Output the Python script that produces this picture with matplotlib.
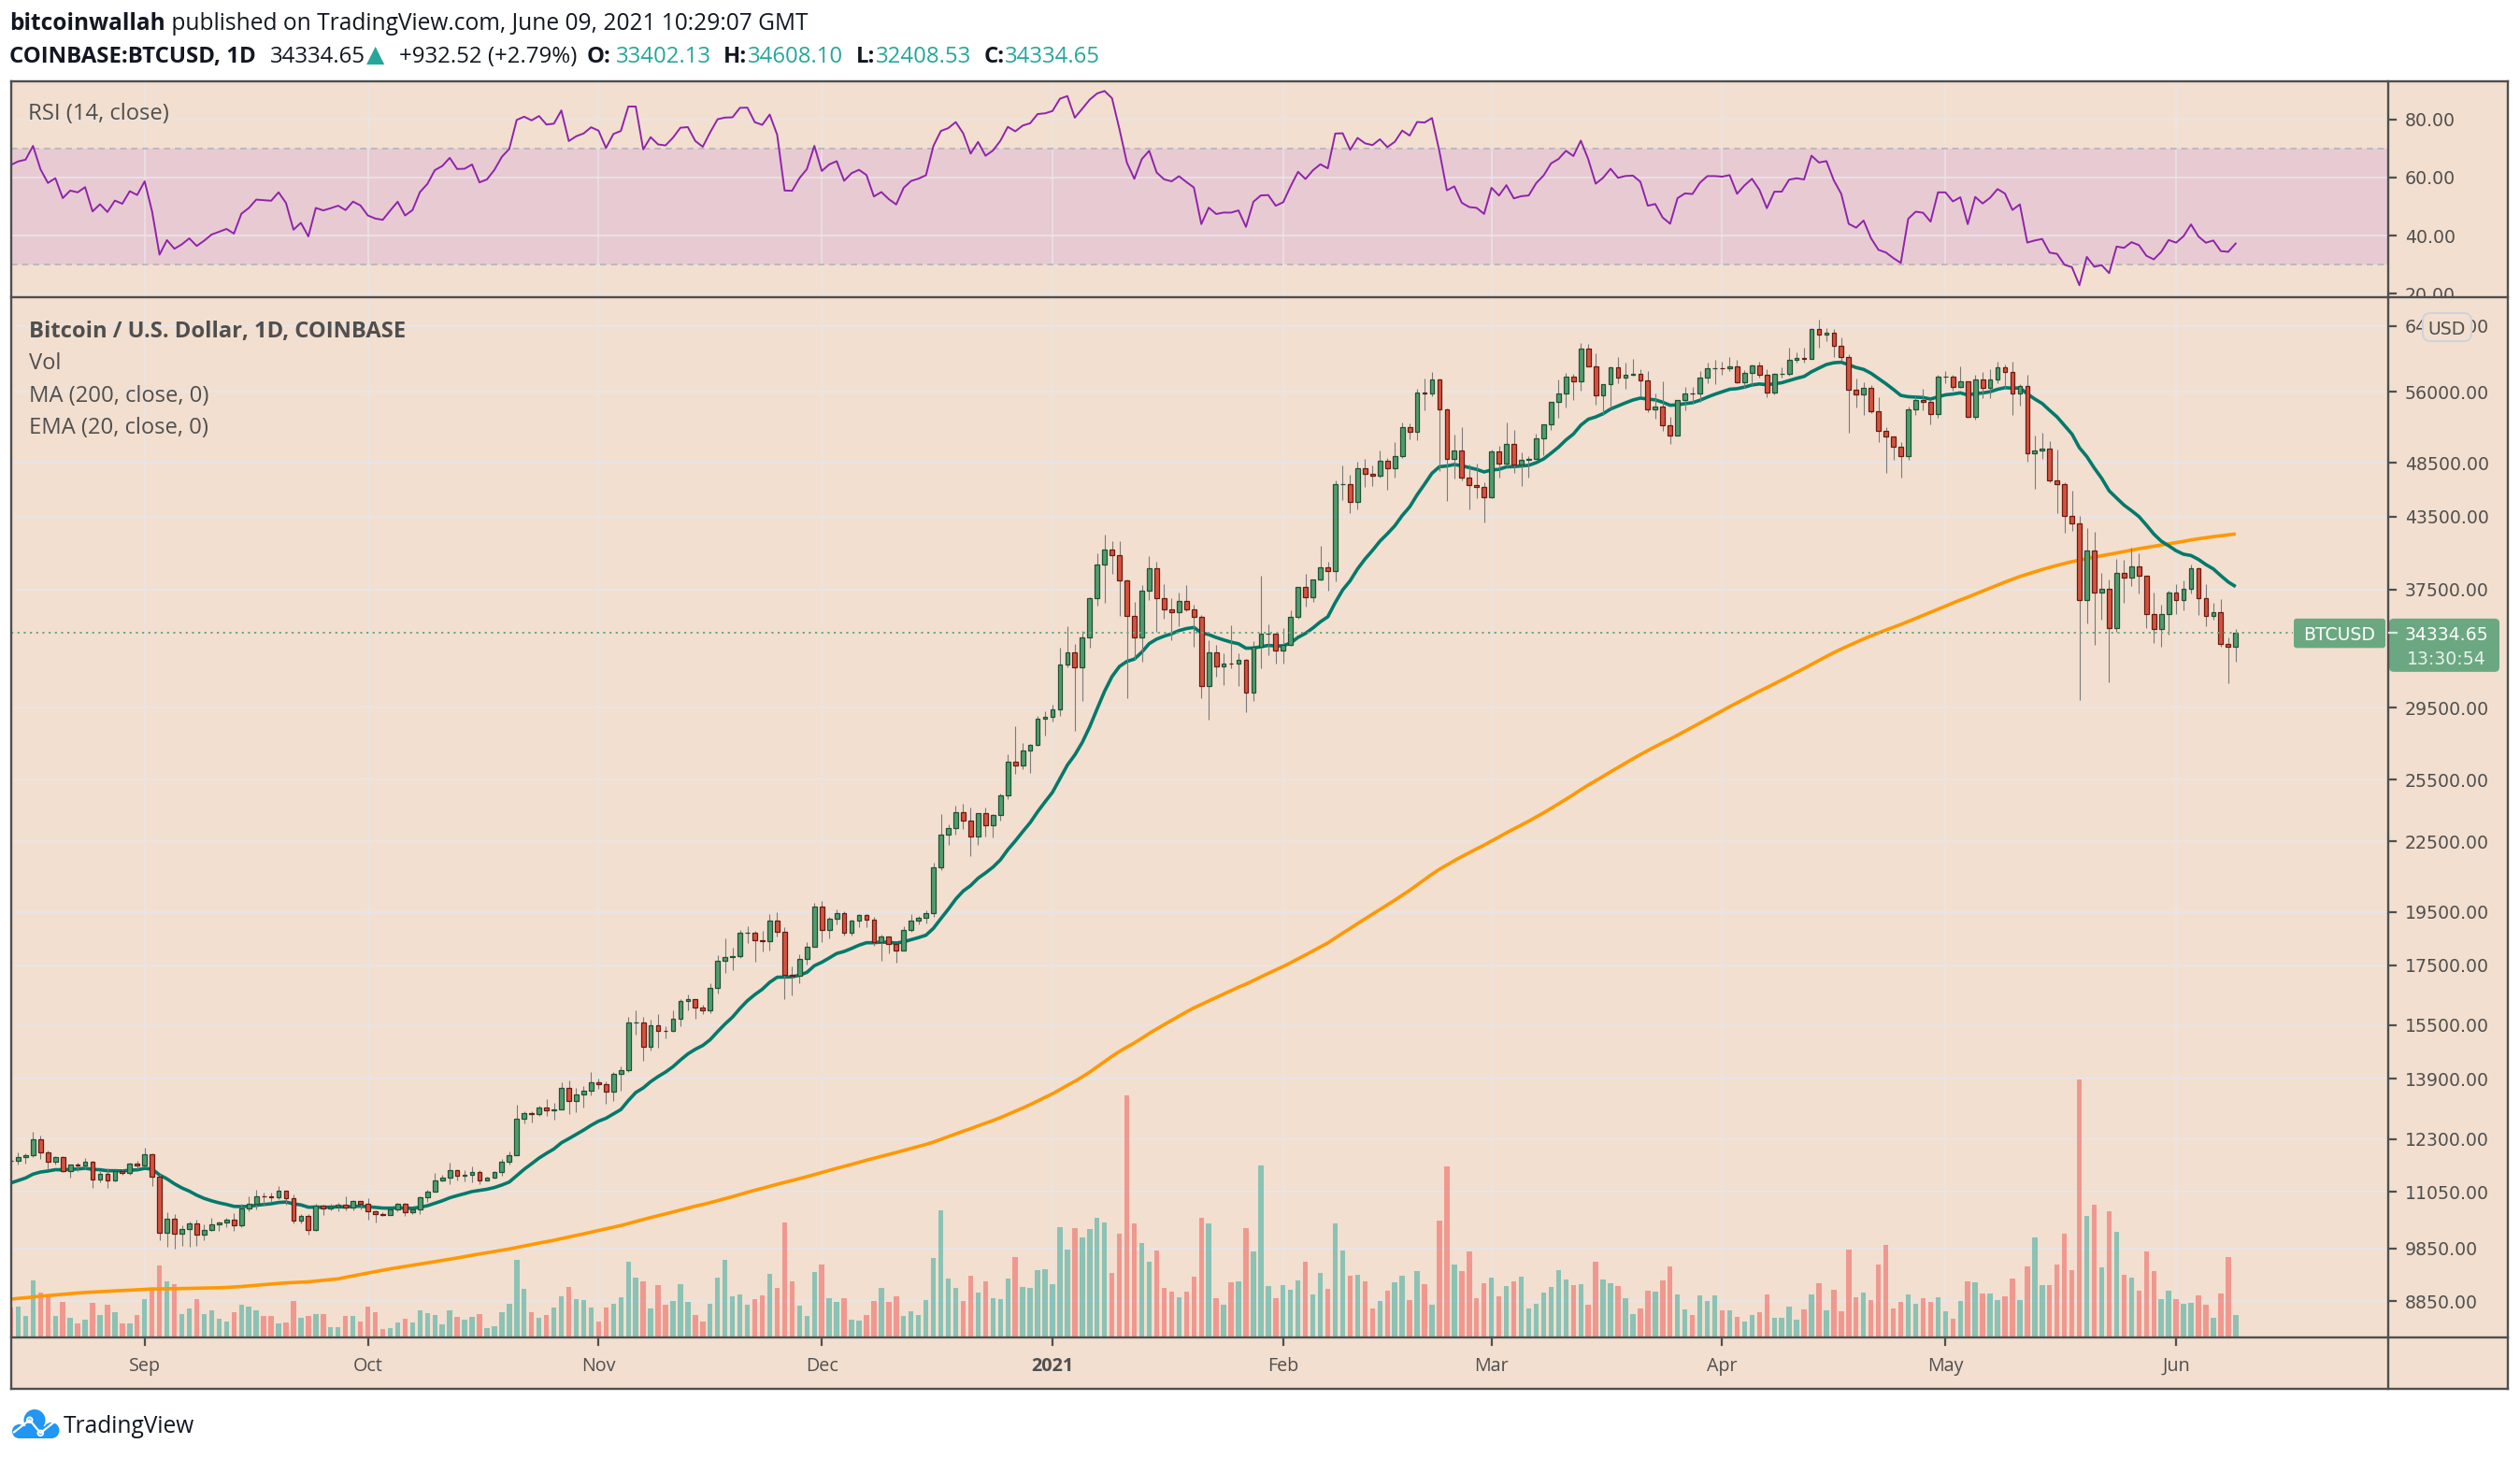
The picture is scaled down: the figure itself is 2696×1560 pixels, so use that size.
import datetime as dt
import numpy as np
import matplotlib
matplotlib.use("Agg")
import matplotlib.pyplot as plt
from matplotlib.patches import FancyBboxPatch, Circle, Rectangle

plt.rcParams['lines.scale_dashes'] = False
plt.rcParams['font.family'] = ['Open Sans', 'DejaVu Sans']

W, H, DPI = 2696, 1560, 200

# ---------------- data ----------------
START = dt.date(2020, 8, 14)

# daily closes 2020-01-27 .. 2020-08-13 (history for MA200 / EMA / RSI warm-up)
pre_close = [
    8900, 9380, 9300, 9510, 9350,
    9390, 9340, 9290, 9190, 9620, 9760, 9800, 9900, 10170, 9860, 10270, 10360, 10240, 10370, 9900,
    9930, 9700, 10180, 9600, 9610, 9690, 9670, 9970, 9650, 9320, 8790, 8790, 8680, 8540,
    8530, 8920, 8760, 8760, 9070, 9150, 8900, 8040, 7940, 7900, 7950, 4860, 5620, 5170, 5360, 5030,
    5330, 5420, 6190, 6200, 6190, 5830, 6490, 6770, 6690, 6760, 6370, 6250, 5880, 6410, 6420,
    6650, 6810, 6740, 6870, 6780, 7340, 7200, 7370, 7300, 6870, 6890, 6920, 6850, 6860, 6630,
    7120, 7040, 7260, 7130, 6840, 6860, 7130, 7490, 7510, 7550, 7700, 7790, 7760, 8780, 8620,
    8830, 8970, 8900, 8880, 9030, 9150, 9990, 9810, 9540, 8720, 8560, 8810, 9310, 9790, 9310,
    9380, 9670, 9730, 9780, 9510, 9060, 9170, 9180, 8720, 8900, 8840, 9200, 9570, 9430, 9700, 9450,
    10200, 9520, 9660, 9790, 9620, 9670, 9750, 9780, 9770, 9890, 9270, 9470, 9480, 9340, 9430,
    9520, 9450, 9380, 9300, 9360, 9290, 9690, 9630, 9290, 9250, 9160, 9010, 9110, 9190, 9140,
    9230, 9090, 9060, 9130, 9080, 9340, 9250, 9430, 9240, 9290, 9240, 9300, 9240, 9250, 9190,
    9130, 9150, 9170, 9210, 9160, 9390, 9530, 9610, 9550, 9700, 9930, 11040, 10930, 11100, 11110, 11350,
    11800, 11070, 11230, 11190, 11740, 11770, 11600, 11760, 11680, 11880, 11400, 11580, 11780,
]

# visible candles 2020-08-14 .. 2021-06-09
close = [
    11770, 11865, 11910, 12300, 11970, 11750, 11860, 11520, 11680, 11650, 11755, 11330, 11465, 11320, 11530, 11475, 11710, 11650,
    11920, 11395, 10170, 10470, 10160, 10250, 10370, 10125, 10225, 10340, 10390, 10440, 10330, 10680, 10790, 10955, 10945, 10935, 11085, 10920, 10420, 10530, 10235, 10740, 10690, 10730, 10775, 10700, 10840, 10780,
    10620, 10570, 10550, 10670, 10790, 10600, 10670, 10925, 11055, 11300, 11380, 11545, 11425, 11430, 11505, 11320, 11365, 11515, 11750, 11915, 12825, 12975, 12935, 13125, 13035, 13070, 13650, 13280, 13455, 13560, 13800,
    13760, 13550, 14030, 14150, 15590, 15590, 14840, 15480, 15330, 15310, 15700, 16290, 16330, 16070, 15960, 16720, 17660, 17800, 17820, 18680, 18700, 18420, 18370, 19160, 18740, 17150, 17140, 17720, 18180, 19700,
    18790, 19230, 19450, 18700, 19160, 19370, 19180, 18330, 18550, 18260, 18040, 18810, 19160, 19280, 19450, 21340, 22800, 23130, 23870, 23480, 22720, 23820, 23250, 23720, 24690, 26440, 26250, 27040, 27370, 28860, 28990,
    29400, 32200, 33000, 32030, 34030, 36820, 39430, 40670, 40240, 38240, 35550, 34000, 37390, 39150, 36830, 36050, 35820, 36630, 36020, 35470, 30850, 33010, 32090, 32280, 32270, 32520, 30430, 33410, 34270, 34320, 33110,
    33520, 35510, 37670, 36950, 38290, 39260, 38900, 46400, 46480, 44840, 47970, 47410, 47230, 48680, 47940, 49170, 52140, 51680, 55890, 55840, 57410, 54090, 48890, 49680, 47060, 46330, 46200, 45240,
    49620, 48440, 50380, 48370, 48760, 48880, 50970, 52400, 54880, 55860, 57800, 57230, 61190, 59000, 55640, 56900, 58910, 57650, 58030, 58100, 57350, 54080, 54340, 52300, 51300, 55070, 55860, 55780, 57620, 58790, 58800,
    58740, 58970, 57060, 58200, 59130, 58020, 55950, 58090, 58100, 59770, 59970, 59860, 63580, 62960, 63200, 61450, 60070, 56270, 55700, 56500, 53800, 51700, 51190, 50090, 49120, 54050, 55040, 54880, 53580, 57800,
    57800, 56600, 57200, 53240, 57480, 56440, 57400, 58900, 58280, 55860, 56700, 49400, 49710, 49920, 46760, 46430, 43570, 42900, 36700, 40600, 37300, 37530, 34700, 38780, 38400, 39290, 38540, 35680, 34630, 35650, 37300,
    36690, 37560, 39190, 36850, 35520, 35800, 33570, 33402.13, 34334.65,
]
high = [
    11860, 11970, 11950, 12480, 12390, 12020, 11880, 11880, 11690, 11720, 11830, 11770, 11530, 11590, 11550, 11580, 11720, 11780,
    12080, 11940, 11470, 10600, 10570, 10320, 10410, 10450, 10350, 10490, 10410, 10480, 10580, 10780, 10950, 11100, 11040, 11040, 11180, 11060, 10990, 10560, 10560, 10780, 10760, 10780, 10800, 10950, 10860, 10850,
    10920, 10640, 10600, 10690, 10800, 10800, 10690, 10950, 11100, 11490, 11440, 11730, 11560, 11550, 11630, 11540, 11400, 11520, 11820, 12000, 13200, 13010, 13020, 13160, 13350, 13240, 13800, 13860, 13640, 13690, 14100,
    13900, 13830, 14080, 14250, 15750, 15970, 15770, 15660, 15850, 15470, 15960, 16340, 16490, 16330, 16140, 16880, 17860, 18480, 18120, 18810, 18960, 18750, 18770, 19420, 19490, 18920, 17460, 17880, 18350, 19860,
    19920, 19310, 19600, 19520, 19180, 19420, 19420, 19300, 18640, 18560, 18280, 18950, 19410, 19350, 19560, 21560, 23800, 23280, 24170, 24300, 24100, 23840, 24110, 23790, 24790, 26870, 28400, 27480, 27400, 29000, 29300,
    29680, 33300, 34800, 33600, 34500, 36950, 40370, 41950, 41350, 41400, 38270, 36600, 37850, 40100, 39700, 37900, 36850, 37300, 37850, 36400, 35600, 33830, 33500, 32930, 34880, 32930, 32550, 33780, 38600, 34930, 34320,
    34700, 35980, 37700, 38700, 38300, 40990, 39700, 46780, 48200, 47300, 48600, 48900, 48200, 49700, 49000, 50600, 52600, 52520, 56300, 57500, 58350, 57500, 54200, 51380, 52100, 48350, 48450, 46650,
    49800, 50200, 52650, 51800, 49500, 49200, 51450, 52400, 54900, 57380, 58150, 58050, 61800, 61700, 60600, 56900, 58950, 60050, 59450, 59900, 58600, 58400, 55850, 57200, 53250, 55100, 56550, 56600, 58400, 59400, 59800,
    59500, 60050, 59800, 58500, 59250, 59500, 58650, 58150, 58850, 61250, 60700, 61200, 63800, 64900, 63800, 63600, 62550, 60450, 57500, 57100, 56750, 55400, 52150, 51200, 50550, 54350, 55500, 56400, 55200, 58000,
    58450, 57950, 59000, 57200, 57950, 58350, 58650, 59500, 59250, 59500, 56900, 58000, 51300, 51550, 50700, 49800, 46600, 45800, 43550, 42500, 42200, 38800, 38300, 39900, 39800, 40850, 40400, 38200, 37300, 36400, 37450,
    37900, 38200, 39450, 39250, 37900, 36480, 36800, 34050, 34608.10,
]
low = [
    11650, 11680, 11700, 11850, 11820, 11560, 11680, 11500, 11370, 11520, 11580, 11140, 11260, 11130, 11290, 11440, 11450, 11580,
    11620, 11180, 10020, 9880, 9850, 9910, 9880, 9900, 10010, 10200, 10200, 10290, 10200, 10280, 10630, 10670, 10750, 10820, 10890, 10770, 10370, 10360, 10140, 10200, 10550, 10650, 10630, 10650, 10640, 10670,
    10440, 10380, 10520, 10540, 10620, 10530, 10560, 10560, 10830, 11050, 11280, 11230, 11300, 11280, 11270, 11220, 11320, 11350, 11420, 11680, 11900, 12690, 12720, 12880, 12900, 12790, 13060, 12950, 12990, 13120, 13430,
    13620, 13210, 13300, 13560, 14100, 15200, 14420, 14720, 14810, 15100, 15280, 15450, 15970, 15700, 15860, 15870, 16540, 17220, 17340, 17760, 18320, 17620, 18000, 18020, 18560, 16330, 16450, 16880, 17520, 18180,
    18330, 18470, 19030, 18570, 18590, 18900, 18910, 18200, 17650, 17930, 17600, 18030, 18730, 19000, 19050, 19300, 21230, 22350, 22800, 23060, 21820, 22350, 22720, 22700, 23450, 24500, 25800, 26060, 25850, 27330, 27870,
    28700, 29000, 32000, 28130, 29900, 33300, 36300, 36500, 38720, 35550, 30100, 32530, 32400, 36700, 34400, 35380, 33850, 34800, 35900, 33400, 30070, 28800, 31400, 30900, 31950, 30840, 29240, 29900, 31990, 32830, 32300,
    32300, 33430, 35360, 36200, 36580, 38220, 37400, 38100, 45000, 43800, 44100, 46150, 46300, 47100, 45900, 47050, 48950, 50900, 50740, 53900, 55500, 47700, 44900, 47000, 46800, 44150, 45100, 43000,
    45100, 47050, 48150, 47500, 46300, 47100, 48900, 49300, 51850, 53100, 54300, 55050, 56100, 59000, 54600, 53400, 54150, 57000, 56300, 57850, 55500, 53700, 53000, 51700, 50400, 51300, 53950, 54700, 54900, 57050, 56900,
    57950, 58450, 56950, 56500, 56800, 57600, 55450, 55700, 57650, 57900, 59400, 59400, 59850, 61300, 62050, 60050, 59650, 51550, 54250, 53450, 53650, 50600, 47500, 48800, 47100, 48800, 53400, 53900, 52400, 53100,
    57000, 56100, 56500, 53100, 52900, 55250, 55300, 56950, 56300, 53450, 54500, 48600, 46000, 48900, 46600, 43800, 42100, 42250, 30000, 35000, 33500, 35300, 31100, 34450, 36500, 37800, 37200, 34700, 33650, 33400, 34200,
    35700, 35950, 37200, 35600, 34800, 35300, 33400, 31000, 32408.53,
]
# daily volume, hundreds of BTC
volume = [
    95, 100, 70, 184, 145, 130, 70, 115, 64, 44, 58, 112, 73, 106, 82, 46, 46, 73,
    124, 154, 232, 181, 172, 76, 94, 124, 76, 88, 61, 52, 82, 106, 100, 88, 70, 70, 46, 49, 118, 64, 70, 76, 76, 34, 34, 70, 70, 52,
    100, 82, 28, 31, 49, 61, 49, 88, 79, 73, 43, 88, 67, 58, 67, 76, 31, 37, 82, 109, 250, 157, 82, 64, 73, 97, 133, 163, 124, 121, 97,
    52, 97, 109, 130, 244, 193, 181, 94, 169, 106, 118, 172, 115, 73, 52, 109, 193, 250, 133, 139, 106, 124, 136, 205, 160, 370, 181, 103, 70, 211,
    235, 127, 115, 127, 58, 55, 73, 118, 160, 115, 133, 70, 85, 73, 121, 256, 409, 190, 160, 118, 199, 145, 181, 127, 124, 190, 259, 163, 160, 217, 220,
    172, 355, 283, 352, 322, 349, 385, 370, 208, 334, 778, 367, 304, 244, 280, 160, 148, 130, 148, 196, 385, 367, 127, 106, 178, 181, 352, 277, 553, 166, 127,
    169, 154, 184, 244, 139, 208, 157, 367, 280, 199, 202, 181, 94, 118, 151, 178, 199, 121, 214, 172, 106, 376, 550, 235, 214, 277, 127, 175,
    193, 133, 166, 181, 196, 94, 109, 145, 163, 217, 187, 169, 172, 106, 244, 187, 175, 166, 127, 76, 94, 151, 148, 184, 229, 139, 91, 73, 136, 118, 136,
    88, 88, 67, 52, 73, 82, 139, 64, 64, 100, 58, 91, 139, 175, 88, 154, 85, 283, 130, 145, 121, 235, 298, 94, 115, 139, 109, 127, 115, 130,
    85, 61, 118, 181, 178, 142, 142, 121, 133, 190, 121, 229, 322, 169, 169, 235, 334, 217, 829, 391, 427, 226, 406, 340, 202, 193, 151, 277, 214, 124, 151,
    124, 109, 112, 136, 106, 64, 142, 259, 73,
]

price_ticks = [8850, 9850, 11050, 12300, 13900, 15500, 17500, 19500, 22500,
               25500, 29500, 37500, 43500, 48500, 56000, 64000]
rsi_ticks = [20, 40, 60, 80]
MONTHS = ['Jan', 'Feb', 'Mar', 'Apr', 'May', 'Jun', 'Jul', 'Aug', 'Sep', 'Oct', 'Nov', 'Dec']

n = len(close)
if not (len(high) == n and len(low) == n and len(volume) == n and len(pre_close) == 200):
    raise SystemExit(f"length mismatch {len(close)} {len(high)} {len(low)} {len(volume)} {len(pre_close)}")

# ---------------- indicators ----------------
allc = np.array(pre_close + close, dtype=float)
opn = np.array([pre_close[-1]] + close[:-1], dtype=float)
cls = np.array(close, dtype=float)
hi = np.array(high, dtype=float)
lo = np.array(low, dtype=float)
vol = np.array(volume, dtype=float)
x = np.arange(n)


def ema(a, p):
    out = np.full(len(a), np.nan)
    k = 2.0 / (p + 1)
    out[p - 1] = a[:p].mean()
    for i in range(p, len(a)):
        out[i] = a[i] * k + out[i - 1] * (1 - k)
    return out


ema20 = ema(allc, 20)[-n:]
sma200 = np.convolve(allc, np.ones(200) / 200.0, mode='valid')[-n:]

d = np.diff(allc)
g = np.clip(d, 0, None)
l = np.clip(-d, 0, None)
ag = np.full(len(d), np.nan)
al = np.full(len(d), np.nan)
ag[13] = g[:14].mean()
al[13] = l[:14].mean()
for i in range(14, len(d)):
    ag[i] = (ag[i - 1] * 13 + g[i]) / 14
    al[i] = (al[i - 1] * 13 + l[i]) / 14
rsi = (100 - 100 / (1 + ag / al))[-n:]

dates = [START + dt.timedelta(days=int(i)) for i in x]
month_idx = [i for i, dd in enumerate(dates) if dd.day == 1]
month_lab = [('%d' % dates[i].year) if dates[i].month == 1 else MONTHS[dates[i].month - 1]
             for i in month_idx]

# ---------------- style ----------------
BG = '#f2dfcf'
TXT = '#4f4f4f'
HDR = '#131722'
TEAL = '#26a69a'
UP_FILL, UP_EDGE = '#519c6f', '#1f5235'
DN_FILL, DN_EDGE = '#d4533f', '#6b1a12'
WICK = '#7a7a7a'
EMA_C, MA_C = '#00796b', '#ff9800'
RSI_C, BAND = '#8e24aa', '#e8cad3'
GRID = '#e8e5e8'
BORDER = '#4f4f4f'
LAST = '#6ba882'

PL, PR, SR = 12, 2555, 2683
RT, RB, MB, TB = 87, 318, 1431, 1486
XL, XR = 0.07, 319.5
YLO, YHI = 8225, 67860
RLO, RHI = 18.8, 93.1

fig = plt.figure(figsize=(W / DPI, H / DPI), dpi=DPI, facecolor='white')


def rect(x0, y0, x1, y1):
    return [x0 / W, 1 - y1 / H, (x1 - x0) / W, (y1 - y0) / H]


def clean(ax, fc=BG):
    ax.set_facecolor(fc)
    for s in ax.spines.values():
        s.set_visible(False)
    ax.set_xticks([])
    ax.set_yticks([])
    ax.minorticks_off()


# RSI pane
ax_r = fig.add_axes(rect(PL, RT, PR, RB), zorder=1)
clean(ax_r)
ax_r.set_xlim(XL, XR)
ax_r.set_ylim(RLO, RHI)
ax_r.axhspan(30, 70, color=BAND, lw=0, zorder=0)
for t in rsi_ticks:
    ax_r.axhline(t, color=GRID, lw=0.7, alpha=0.85, zorder=1)
for i in month_idx:
    ax_r.axvline(i, color=GRID, lw=0.6, alpha=0.85, zorder=1)
for lv in (70, 30):
    ax_r.axhline(lv, color='#b5b2ba', lw=0.6, dashes=(2.4, 1.8), zorder=2)
ax_r.plot(x, rsi, color=RSI_C, lw=0.7, zorder=3)

# main pane: background + grid
ax_b = fig.add_axes(rect(PL, RB, PR, MB), zorder=1)
clean(ax_b)
ax_b.set_yscale('log')
ax_b.set_xlim(XL, XR)
ax_b.set_ylim(YLO, YHI)
ax_b.set_yticks([])
ax_b.minorticks_off()
for p in price_ticks:
    ax_b.axhline(p, color=GRID, lw=0.7, alpha=0.95)
for i in month_idx:
    ax_b.axvline(i, color=GRID, lw=0.6, alpha=0.85)

# volume
ax_v = fig.add_axes(rect(PL, RB, PR, MB), zorder=2)
clean(ax_v, 'none')
ax_v.set_xlim(XL, XR)
ax_v.set_ylim(0, vol.max() * 4.03)
upv = cls >= opn
ax_v.bar(x[upv], vol[upv], width=0.68, color=TEAL, alpha=0.5, lw=0)
ax_v.bar(x[~upv], vol[~upv], width=0.68, color='#ef5350', alpha=0.5, lw=0)

# price
ax_m = fig.add_axes(rect(PL, RB, PR, MB), zorder=3)
clean(ax_m, 'none')
ax_m.set_yscale('log')
ax_m.set_xlim(XL, XR)
ax_m.set_ylim(YLO, YHI)
ax_m.set_yticks([])
ax_m.minorticks_off()
ax_m.plot(x, sma200, color=MA_C, lw=1.3, zorder=2, solid_capstyle='butt')
ax_m.plot(x, ema20, color=EMA_C, lw=1.3, zorder=2, solid_capstyle='butt')
ax_m.vlines(x, lo, hi, color=WICK, lw=0.4, zorder=3)
up = cls >= opn
bot = np.minimum(opn, cls)
hgt = np.maximum(np.abs(cls - opn), 1.0)
ax_m.bar(x[up], hgt[up], bottom=bot[up], width=0.6, color=UP_FILL, edgecolor=UP_EDGE, lw=0.45, zorder=4)
ax_m.bar(x[~up], hgt[~up], bottom=bot[~up], width=0.6, color=DN_FILL, edgecolor=DN_EDGE, lw=0.45, zorder=4)

last = cls[-1]
ax_m.plot([XL, 299 + 7.7], [last, last], color=LAST, lw=0.7, dashes=(0.8, 1.6), zorder=5)

# time axis strip
ax_t = fig.add_axes(rect(PL, MB, PR, TB), zorder=1)
clean(ax_t)
ax_t.set_xlim(XL, XR)
ax_t.set_ylim(TB, MB)
for i, lab in zip(month_idx, month_lab):
    ax_t.plot([i, i], [MB, MB + 8], color=TXT, lw=0.8)
    ax_t.text(i, 1466.5, lab, ha='center', va='baseline', fontsize=7.1, color=TXT,
              fontweight='bold' if lab.isdigit() else 'normal')

# price scales
ax_rs = fig.add_axes(rect(PR, RT, SR, RB), zorder=1)
clean(ax_rs)
ax_rs.set_xlim(PR, SR)
ax_rs.set_ylim(RLO, RHI)
for t in rsi_ticks:
    ax_rs.plot([PR, PR + 8], [t, t], color=TXT, lw=0.8)
    ax_rs.text(PR + 18, t, '%.2f' % t, ha='left', va='center_baseline', fontsize=6.8,
               color=TXT, family='DejaVu Sans', clip_on=True)

ax_ms = fig.add_axes(rect(PR, RB, SR, MB), zorder=1)
clean(ax_ms)
ax_ms.set_yscale('log')
ax_ms.set_xlim(PR, SR)
ax_ms.set_ylim(YLO, YHI)
ax_ms.set_yticks([])
ax_ms.minorticks_off()
for p in price_ticks:
    ax_ms.plot([PR, PR + 8], [p, p], color=TXT, lw=0.8)
    ax_ms.text(PR + 18, p, '%.2f' % p, ha='left', va='center_baseline', fontsize=6.8,
               color=TXT, family='DejaVu Sans', clip_on=True)

ax_c = fig.add_axes(rect(PR, MB, SR, TB), zorder=1)
clean(ax_c)

# overlay in pixel coordinates
ax_o = fig.add_axes([0, 0, 1, 1], zorder=10)
ax_o.set_xlim(0, W)
ax_o.set_ylim(H, 0)
ax_o.set_axis_off()

# borders
bw = 0.85
for (xa, ya, xb, yb) in [(PL, RT, SR, RT), (PL, TB, SR, TB), (PL, RT, PL, TB), (SR, RT, SR, TB),
                         (PL, RB, SR, RB), (PL, MB, SR, MB), (PR, RT, PR, TB)]:
    ax_o.plot([xa, xb], [ya, yb], color=BORDER, lw=bw, solid_capstyle='projecting')

renderer = fig.canvas.get_renderer()


def wid(t):
    return t.get_window_extent(renderer=renderer).width


def fit(t, target):
    t.set_fontsize(t.get_fontsize() * target / wid(t))
    return t.get_fontsize()


# header line 1
t1 = ax_o.text(10, 31.7, 'bitcoinwallah', fontsize=10, fontweight='bold', color=HDR, va='baseline')
t2 = ax_o.text(0, 31.7, ' published on TradingView.com, June 09, 2021 10:29:07 GMT', fontsize=10,
               color=HDR, va='baseline')
tot = wid(t1) + wid(t2)
s1 = 10 * 854 / tot
t1.set_fontsize(s1)
t2.set_fontsize(s1)
t2.set_x(10 + wid(t1))

# header line 2
tb = ax_o.text(10, 66.7, 'COINBASE:BTCUSD, 1D', fontsize=10, fontweight='bold', color=HDR, va='baseline')
s2 = fit(tb, 264)
pieces = [(289, '34334.65', HDR, 'normal'), (392, '\u25B2', TEAL, 'normal'),
          (427, '+932.52 (+2.79%)', HDR, 'normal'),
          (628, 'O:', HDR, 'bold'), (659, '33402.13', TEAL, 'normal'),
          (774, 'H:', HDR, 'bold'), (800, '34608.10', TEAL, 'normal'),
          (916, 'L:', HDR, 'bold'), (937, '32408.53', TEAL, 'normal'),
          (1053, 'C:', HDR, 'bold'), (1075, '34334.65', TEAL, 'normal')]
for px_, s, c, w in pieces:
    tri = s == '\u25B2'
    fam = ['DejaVu Sans'] if tri else ['Open Sans', 'DejaVu Sans']
    ax_o.text(px_, 66.7 if not tri else 65.5, s, fontsize=s2 * 1.05 if tri else s2, color=c,
              fontweight=w, va='baseline', family=fam)

# legends
tl = ax_o.text(30.7, 360.7, 'Bitcoin / U.S. Dollar, 1D, COINBASE', fontsize=10, fontweight='bold',
               color=TXT, va='baseline')
sl = fit(tl, 403)
for k, s in enumerate(['Vol', 'MA (200, close, 0)', 'EMA (20, close, 0)']):
    ax_o.text(30.7, 360.7 + 34.4 * (k + 1), s, fontsize=sl, color=TXT, va='baseline')
tr = ax_o.text(30.1, 128.3, 'RSI (14, close)', fontsize=sl, color=TXT, va='baseline')

# USD badge
ax_o.add_patch(FancyBboxPatch((2592, 335), 52, 30, boxstyle='round,pad=0,rounding_size=8',
                              fc=BG, ec='#cdd3dd', lw=0.7))
ax_o.text(2618, 350, 'USD', ha='center', va='center_baseline', fontsize=6.8, color=TXT,
          family='DejaVu Sans')

# last price labels
yp = H - ax_m.transData.transform((0, last))[1]
ax_o.add_patch(FancyBboxPatch((2454, yp - 15.5), 98, 31.5, boxstyle='round,pad=0,rounding_size=3',
                              fc=LAST, ec='none'))
ax_o.text(2503, yp, 'BTCUSD', ha='center', va='center_baseline', fontsize=6.8, color='white',
          family='DejaVu Sans')
ax_o.add_patch(FancyBboxPatch((2556, yp - 15.5), 118, 57, boxstyle='round,pad=0,rounding_size=5',
                              fc=LAST, ec='none'))
ax_o.plot([2556, 2564], [yp, yp], color='#d8eadf', lw=0.8)
ax_o.text(2617, yp, '%.2f' % last, ha='center', va='center_baseline', fontsize=6.8, color='white',
          family='DejaVu Sans')
ax_o.text(2617, yp + 26, '13:30:54', ha='center', va='center_baseline', fontsize=6.8,
          color='#e8f2ec', family='DejaVu Sans')

# TradingView logo
BLUE = '#2196f3'
for (cx, cy, r) in [(37, 1519.5, 11.5), (20.5, 1531.5, 7.5), (55, 1530.5, 8.5)]:
    ax_o.add_patch(Circle((cx, cy), r, fc=BLUE, ec='none'))
ax_o.add_patch(Rectangle((20.5, 1526), 35, 13, fc=BLUE, ec='none'))
ax_o.plot([15, 31.7, 43.3, 57], [1532.3, 1519.3, 1533.3, 1522.3], color='white', lw=0.8)
for (cx, cy) in [(31.7, 1519.3), (43.3, 1533.3)]:
    ax_o.add_patch(Circle((cx, cy), 2.8, fc=BLUE, ec='white', lw=0.7))
tv = ax_o.text(68, 1533, 'TradingView', fontsize=10, color=HDR, va='baseline')
fit(tv, 140)

fig.savefig('out.png', dpi=DPI, facecolor='white')
